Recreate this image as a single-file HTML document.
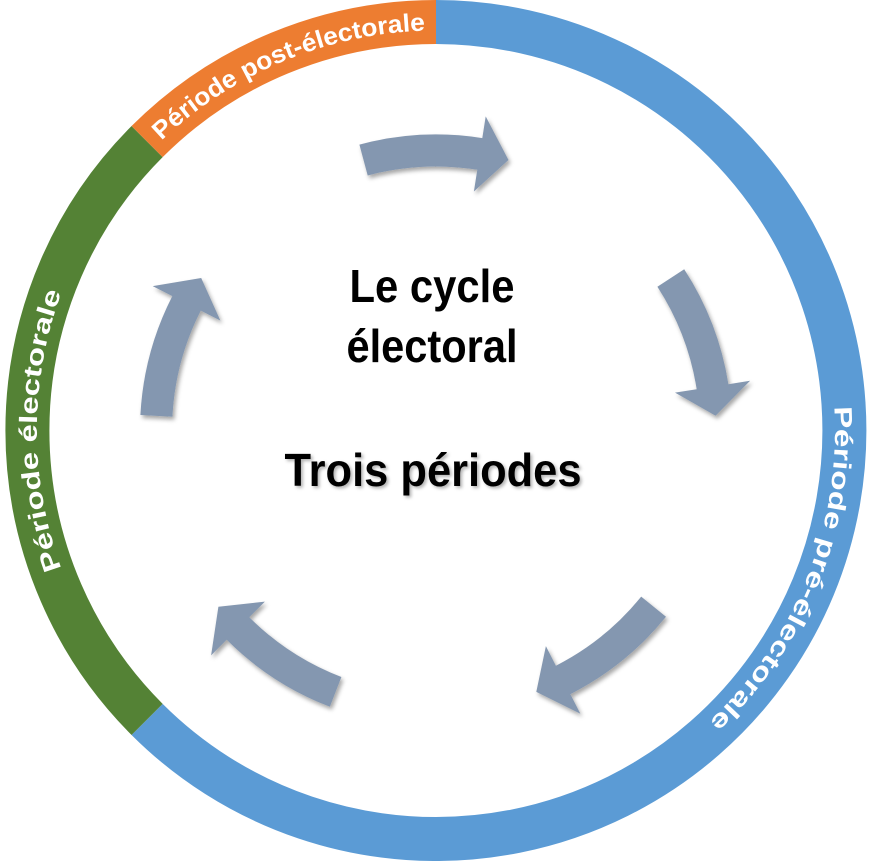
<!DOCTYPE html>
<html><head><meta charset="utf-8"><style>html,body{margin:0;padding:0;background:#fff}svg{display:block}</style></head>
<body>
<svg id="s" width="871" height="861" viewBox="0 0 871 861" xmlns="http://www.w3.org/2000/svg">
<defs>
<filter id="sh" x="-20%" y="-20%" width="140%" height="140%"><feDropShadow dx="2" dy="3" stdDeviation="2" flood-color="#000" flood-opacity="0.35"/></filter>
<filter id="ts" x="-10%" y="-20%" width="120%" height="140%"><feDropShadow dx="2" dy="2" stdDeviation="1.5" flood-color="#000" flood-opacity="0.3"/></filter>
<path id="pOr" d="M 153.8 148.3 A 399 399 0 0 1 436 30.5"/>
<path id="pGr" d="M 153.8 712.7 A 399 399 0 0 1 153.8 148.3"/>
<path id="pBl" d="M 823.1 334.0 A 399 399 0 0 1 651.0 766.7"/>
</defs>
<g id="ring" fill="none" stroke-width="44"></g>
<g id="arrows" fill="#8497b0" filter="url(#sh)"></g>
<g font-family="'Liberation Sans', Arial, sans-serif" font-weight="bold" fill="#fff" font-size="25">
<text><textPath href="#pOr" startOffset="50%" text-anchor="middle" textLength="292" lengthAdjust="spacingAndGlyphs">Période post-électorale</textPath></text>
<text><textPath href="#pGr" startOffset="50%" text-anchor="middle" textLength="282" lengthAdjust="spacingAndGlyphs">Période électorale</textPath></text>
<text><textPath href="#pBl" startOffset="50%" text-anchor="middle" textLength="350" lengthAdjust="spacingAndGlyphs">Période pré-électorale</textPath></text>
</g>
<g font-family="'Liberation Sans', Arial, sans-serif" font-weight="bold" fill="#000" text-anchor="middle" font-size="46">
<text x="432" y="302" textLength="165" lengthAdjust="spacingAndGlyphs">Le cycle</text>
<text x="432" y="362" textLength="171" lengthAdjust="spacingAndGlyphs">électoral</text>
<text x="433" y="486" textLength="297" lengthAdjust="spacingAndGlyphs" filter="url(#ts)">Trois périodes</text>
</g>
</svg>
<script>
var cx=436,cy=430.5,NS="http://www.w3.org/2000/svg";
function pt(r,a){a=a*Math.PI/180;return [(cx+r*Math.cos(a)).toFixed(1),(cy+r*Math.sin(a)).toFixed(1)];}
function arc(r,a0,a1,col){var p0=pt(r,a0),p1=pt(r,a1);var large=((a1-a0+360)%360)>180?1:0;
var e=document.createElementNS(NS,"path");e.setAttribute("d","M"+p0+" A"+r+" "+r+" 0 "+large+" 1 "+p1);e.setAttribute("stroke",col);document.getElementById("ring").appendChild(e);}
arc(408.5,-90,135,"#5b9bd5");arc(408.5,135,225,"#548235");arc(408.5,225,270,"#ed7d31");
var R=280,w=16,hw=38;
[255,327,39,111,183].forEach(function(a0){var a1=a0+24,a2=a0+30;
var d="M"+pt(R+w,a0)+" A"+(R+w)+" "+(R+w)+" 0 0 1 "+pt(R+w,a1)+" L"+pt(R+hw,a1)+" L"+pt(R,a2)+" L"+pt(R-hw,a1)+" L"+pt(R-w,a1)+" A"+(R-w)+" "+(R-w)+" 0 0 0 "+pt(R-w,a0)+" Z";
var e=document.createElementNS(NS,"path");e.setAttribute("d",d);document.getElementById("arrows").appendChild(e);});
</script>
</body></html>
